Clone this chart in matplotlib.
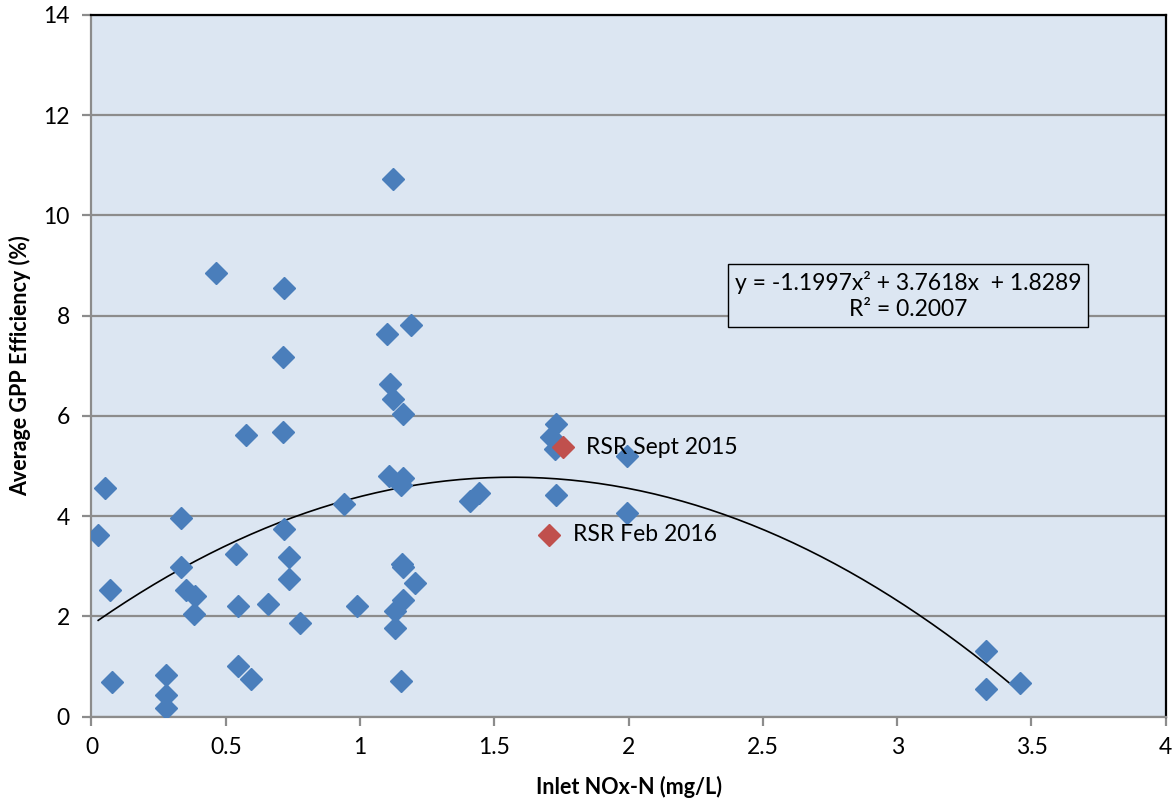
import numpy as np
import matplotlib
matplotlib.use("Agg")
import matplotlib.pyplot as plt

plt.rcParams["font.family"] = ["Lato", "DejaVu Sans"]

# blue points: inlet NOx-N (mg/L) vs average GPP efficiency (%)
nox = [0.025, 0.050, 0.069, 0.075, 0.277, 0.277, 0.277, 0.333, 0.333, 0.353,
       0.386, 0.380, 0.462, 0.539, 0.547, 0.547, 0.576, 0.595, 0.657, 0.712,
       0.713, 0.718, 0.718, 0.736, 0.736, 0.778, 0.940, 0.987, 1.099, 1.108,
       1.111, 1.122, 1.122, 1.130, 1.130, 1.154, 1.154, 1.156, 1.159, 1.159,
       1.161, 1.161, 1.190, 1.203, 1.410, 1.441, 1.711, 1.726, 1.731, 1.731,
       1.993, 1.993, 3.329, 3.329, 3.458]
gpp = [3.63, 4.57, 2.52, 0.70, 0.83, 0.43, 0.17, 3.97, 2.99, 2.52,
       2.40, 2.05, 8.85, 3.25, 2.20, 1.02, 5.62, 0.75, 2.25, 5.68,
       7.18, 8.55, 3.75, 3.18, 2.75, 1.87, 4.25, 2.20, 7.64, 4.80,
       6.64, 10.73, 6.33, 2.10, 1.76, 4.62, 0.71, 3.05, 6.03, 4.76,
       2.98, 2.33, 7.81, 2.66, 4.30, 4.46, 5.58, 5.35, 5.83, 4.43,
       5.21, 4.06, 1.31, 0.55, 0.67]

# highlighted RSR samples
rsr_labels = ["RSR Sept 2015", "RSR Feb 2016"]
rsr_nox = [1.754, 1.705]
rsr_gpp = [5.38, 3.63]

# polynomial trendline as reported on the chart
poly_coef = [-1.1997, 3.7618, 1.8289]
r_squared = 0.2007

BLUE = "#4A7EBB"
RED = "#C0504D"
BG = "#DCE6F2"
GRID = "#8C8C8C"

fig = plt.figure(figsize=(11.76, 8.05), dpi=100)
ax = fig.add_axes([0.0778, 0.1097, 0.9135, 0.8717])
ax.set_facecolor(BG)

ax.plot(nox, gpp, ls="none", marker="D", ms=10.7, color=BLUE, zorder=3)
ax.plot(rsr_nox, rsr_gpp, ls="none", marker="D", ms=10.7, color=RED, zorder=4)
for lab, x, y in zip(rsr_labels, rsr_nox, rsr_gpp):
    ax.annotate(lab, (x, y), xytext=(17, 0), textcoords="offset points",
                va="center", ha="left", fontsize=16.5, zorder=5)

xs = np.linspace(min(nox), max(nox), 200)
ax.plot(xs, np.polyval(poly_coef, xs), color="black", lw=1.2, zorder=2)

a, b, c = poly_coef
eq = f"y = {a:.4f}x\u00b2 + {b:.4f}x  + {c:.4f}\nR\u00b2 = {r_squared:.4f}"
ax.text(3.04, 8.41, eq, ha="center", va="center", fontsize=16.5, linespacing=1.3,
        zorder=6, bbox=dict(boxstyle="square,pad=0.3", fc=BG, ec="black", lw=1.0))

ax.set_xlim(0, 4)
ax.set_ylim(0, 14)
ax.set_xticks(np.arange(0, 4.01, 0.5))
ax.set_xticklabels(["0", "0.5", "1", "1.5", "2", "2.5", "3", "3.5", "4"])
ax.set_yticks(np.arange(0, 14.1, 2))
ax.yaxis.grid(True, color=GRID, lw=1.6)
ax.set_axisbelow(True)

for side in ("left", "bottom"):
    ax.spines[side].set_color(GRID)
    ax.spines[side].set_linewidth(1.6)
for side in ("top", "right"):
    ax.spines[side].set_color("black")
    ax.spines[side].set_linewidth(1.6)

ax.tick_params(axis="both", direction="out", length=6.5, width=1.6, color=GRID,
               labelsize=16.5)
ax.tick_params(axis="x", pad=8)
ax.tick_params(axis="y", pad=9)

ax.set_xlabel("Inlet NOx-N (mg/L)", fontsize=15.5, fontweight="bold", labelpad=13)
ax.set_ylabel("Average GPP Efficiency (%)", fontsize=15.5, fontweight="bold", labelpad=9)

fig.savefig("out.png", dpi=100)
